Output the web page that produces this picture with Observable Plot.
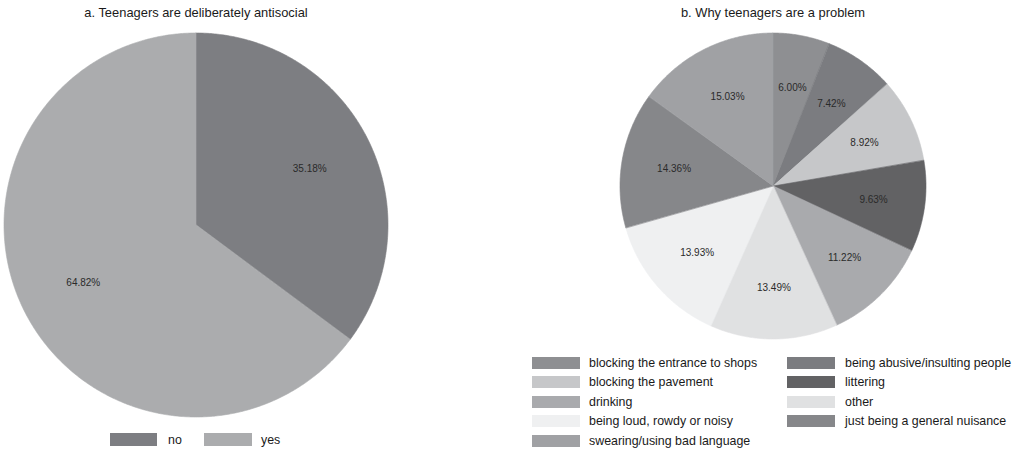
<!DOCTYPE html>
<html><head><meta charset="utf-8">
<script src="https://cdn.jsdelivr.net/npm/d3@7"></script>
<script src="https://cdn.jsdelivr.net/npm/@observablehq/plot@0.6"></script>
<style>
body{margin:0;background:#fff;font-family:"Liberation Sans",Arial,sans-serif;}
#root{position:relative;width:1019px;height:450px;overflow:hidden;background:#fff;}
.plot{position:absolute;top:0;}
.title{position:absolute;font-size:12.9px;color:#1a1a1a;white-space:nowrap;transform:translateX(-50%);line-height:14px;}
.sw{position:absolute;}
.lt{position:absolute;font-size:12.4px;color:#1a1a1a;white-space:nowrap;line-height:14px;}
</style></head><body><div id="root"></div>
<script>
// ---- data ----
const antisocialCategories = ["no", "yes"];
const antisocialValues = [35.18, 64.82];
const antisocialColors = ["#7d7e82", "#abacae"];

const problemCategories = [
  "blocking the entrance to shops",
  "being abusive/insulting people",
  "blocking the pavement",
  "littering",
  "drinking",
  "other",
  "being loud, rowdy or noisy",
  "just being a general nuisance",
  "swearing/using bad language"
];
const problemValues = [6.00, 7.42, 8.92, 9.63, 11.22, 13.49, 13.93, 14.36, 15.03];
const problemColors = ["#8e8f92", "#7b7c80", "#c6c7c9", "#626264", "#a9aaad", "#e0e1e2", "#eff0f1", "#86878a", "#a0a1a4"];

const titles = ["a. Teenagers are deliberately antisocial", "b. Why teenagers are a problem"];

// ---- geometry helpers (slices start at 12 o'clock, clockwise) ----
function pieData(cats, vals) {
  const total = d3.sum(vals);
  let acc = 0;
  const pts = [], labels = [];
  cats.forEach((c, i) => {
    const a0 = acc / total * 2 * Math.PI;
    acc += vals[i];
    const a1 = acc / total * 2 * Math.PI;
    const n = Math.max(2, Math.ceil((a1 - a0) / (Math.PI / 360)));
    for (let k = 0; k <= n; k++) {
      const a = a0 + (a1 - a0) * k / n;
      pts.push({category: c, x: Math.sin(a), y: Math.cos(a), cx: 0, cy: 0});
    }
    const am = (a0 + a1) / 2;
    labels.push({category: c, x: 0.66 * Math.sin(am), y: 0.66 * Math.cos(am), label: vals[i].toFixed(2) + "%"});
  });
  return {pts, labels};
}

function pie(cats, vals, colors, o) {
  const {pts, labels} = pieData(cats, vals);
  return Plot.plot({
    width: o.width, height: o.height,
    marginLeft: o.ml, marginRight: o.mr, marginTop: o.mt, marginBottom: o.mb,
    x: {domain: [-1, 1], axis: null},
    y: {domain: [-1, 1], axis: null},
    color: {domain: cats, range: colors},
    style: {background: "transparent", overflow: "visible"},
    marks: [
      Plot.area(pts, {x1: "x", y1: "y", x2: "cx", y2: "cy", z: "category", fill: "category", stroke: "category", strokeWidth: 0.6, curve: "linear"}),
      Plot.text(labels, {x: "x", y: "y", text: "label", fill: "#2a2a2a", fontSize: 10, fontFamily: "Liberation Sans, Arial, sans-serif"})
    ]
  });
}

const root = document.getElementById("root");

// left pie: center (196,225), r=192
const p1 = pie(antisocialCategories, antisocialValues, antisocialColors, {width: 392, height: 450, ml: 4, mr: 4, mt: 33, mb: 33});
p1.classList.add("plot"); p1.style.left = "0px";
root.appendChild(p1);

// right pie: center (773,186), r=153
const p2 = pie(problemCategories, problemValues, problemColors, {width: 316, height: 345, ml: 5, mr: 5, mt: 33, mb: 6});
p2.classList.add("plot"); p2.style.left = "615px";
root.appendChild(p2);

// titles
[[titles[0], 196], [titles[1], 773]].forEach(([t, cx]) => {
  const d = document.createElement("div");
  d.className = "title"; d.textContent = t;
  d.style.left = cx + "px"; d.style.top = "6px";
  root.appendChild(d);
});

// legends
function legendItem(color, text, sx, sy, sw, sh, tx) {
  const s = document.createElement("div");
  s.className = "sw";
  Object.assign(s.style, {left: sx + "px", top: sy + "px", width: sw + "px", height: sh + "px", background: color});
  root.appendChild(s);
  const l = document.createElement("div");
  l.className = "lt"; l.textContent = text;
  Object.assign(l.style, {left: tx + "px", top: (sy + sh / 2 - 7) + "px"});
  root.appendChild(l);
}
legendItem(antisocialColors[0], antisocialCategories[0], 110, 433, 47, 13, 168);
legendItem(antisocialColors[1], antisocialCategories[1], 204, 433, 48, 13, 261);

problemCategories.forEach((c, i) => {
  const col = i % 2, row = Math.floor(i / 2);
  const sx = col === 0 ? 532 : 787;
  const tx = col === 0 ? 589 : 845;
  legendItem(problemColors[i], c, sx, 357 + row * 19.4, 48, 12, tx);
});
</script>
</body></html>
